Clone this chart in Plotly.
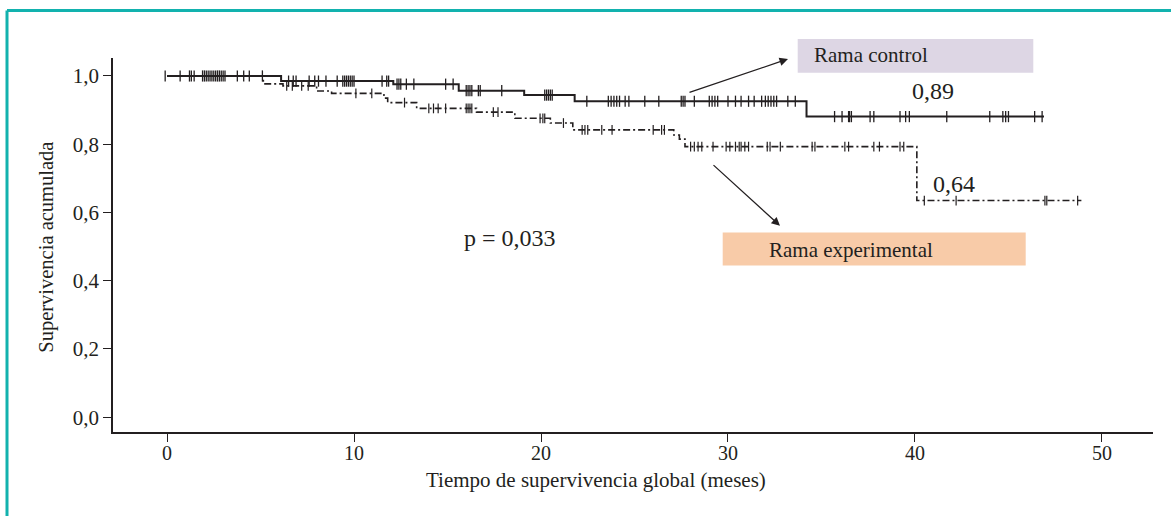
import numpy as np
import plotly.graph_objects as go

# Kaplan-Meier step data (months, cumulative survival)
ctrl_t = [0, 6.1, 12.1, 15.6, 19.1, 21.8, 34.2, 46.9]
ctrl_s = [1.0, 0.985, 0.976, 0.957, 0.944, 0.926, 0.881, 0.881]
ctrl_cens = [-0.1, 0.7, 1.2, 1.3, 1.45, 1.9, 2.0, 2.1, 2.2, 2.3, 2.4, 2.5, 2.6, 2.7, 2.8, 2.9, 3.0, 3.1,
             3.76, 4.1, 4.4, 5.1, 6.5, 6.75, 6.9, 7.6, 7.9, 8.1, 8.5, 9.1, 9.4, 9.5, 9.6, 9.7, 9.8, 9.9, 10.0,
             11.5, 11.75, 11.85, 12.3, 12.4, 12.5, 12.8, 13.2, 14.9, 15.3, 16.0, 16.1, 16.2, 16.3, 16.65, 16.75,
             17.9, 20.2, 20.3, 20.4, 20.5, 20.6, 22.45, 23.6, 23.75, 23.9, 24.05, 24.2, 24.5, 24.7, 25.55, 26.3,
             27.5, 27.6, 27.7, 28.2, 29.0, 29.15, 29.3, 29.45, 30.0, 30.4, 30.7, 31.1, 31.4, 31.8, 32.0, 32.15,
             32.3, 32.45, 32.6, 33.2, 33.6, 35.7, 36.1, 36.45, 36.5, 36.6, 37.6, 37.8, 39.2, 39.5, 39.7, 41.7,
             44.0, 44.7, 44.85, 45.0, 46.4, 46.8]

exp_t = [0, 5.15, 6.2, 8.0, 8.8, 11.6, 11.8, 13.35, 16.55, 18.6, 20.5, 21.7, 27.1, 27.4, 27.7, 40.1, 48.9]
exp_s = [1.0, 0.977, 0.971, 0.956, 0.949, 0.935, 0.922, 0.905, 0.894, 0.876, 0.862, 0.842, 0.827, 0.815,
         0.793, 0.635, 0.635]
exp_cens = [6.4, 6.7, 7.2, 7.55, 10.1, 10.95, 12.7, 14.0, 14.25, 14.5, 14.9, 16.0, 16.1, 16.2, 16.3, 17.45,
            17.7, 19.95, 20.1, 20.2, 21.2, 22.2, 22.35, 22.5, 23.25, 23.8, 26.0, 26.45, 26.6, 28.0, 28.2, 28.4,
            28.6, 29.2, 29.9, 30.1, 30.4, 30.6, 30.7, 30.9, 31.1, 32.1, 32.25, 32.8, 34.5, 34.65, 36.25, 36.45,
            37.8, 38.1, 39.2, 39.4, 40.5, 42.2, 46.95, 47.05, 48.7]

x_ticks = [0, 10, 20, 30, 40, 50]
y_ticks = [0.0, 0.2, 0.4, 0.6, 0.8, 1.0]
y_ticklabels = ["0,0", "0,2", "0,4", "0,6", "0,8", "1,0"]

INK = "#231f20"
FONT = "Liberation Serif, Times New Roman, serif"


def step_value(times, surv, t):
    idx = np.searchsorted(np.array(times), np.array(t), side="right") - 1
    idx = np.clip(idx, 0, len(surv) - 1)
    return np.array(surv)[idx]


fig = go.Figure()
fig.add_trace(go.Scatter(x=exp_t, y=exp_s, mode="lines", line_shape="hv",
                         line=dict(color=INK, width=1.6, dash="7px,3px,2px,3px"),
                         showlegend=False, hoverinfo="skip"))
fig.add_trace(go.Scatter(x=exp_cens, y=step_value(exp_t, exp_s, exp_cens), mode="markers",
                         marker=dict(symbol="line-ns-open", size=7, color=INK, line=dict(color=INK, width=1.2)),
                         showlegend=False))
fig.add_trace(go.Scatter(x=ctrl_t, y=ctrl_s, mode="lines", line_shape="hv",
                         line=dict(color=INK, width=2), showlegend=False, hoverinfo="skip"))
fig.add_trace(go.Scatter(x=ctrl_cens, y=step_value(ctrl_t, ctrl_s, ctrl_cens), mode="markers",
                         marker=dict(symbol="line-ns-open", size=8, color=INK, line=dict(color=INK, width=1.3)),
                         showlegend=False))

axis_common = dict(showgrid=False, zeroline=False, showline=True, linecolor=INK, linewidth=1.5,
                   ticks="outside", ticklen=8, tickwidth=1.3, tickcolor=INK,
                   tickfont=dict(family=FONT, size=21, color=INK))

fig.update_layout(
    width=1171, height=516,
    margin=dict(l=113, r=18, t=58, b=83.5),
    paper_bgcolor="white", plot_bgcolor="white",
    xaxis=dict(range=[-2.89, 52.73], tickvals=x_ticks, showticklabels=False, **axis_common),
    yaxis=dict(range=[-0.0433, 1.0527], tickvals=y_ticks, ticktext=y_ticklabels, **axis_common),
    font=dict(family=FONT, color=INK),
)


def px(xp):
    return (xp - 113) / 1040.0


def py(yp):
    return (432.5 - yp) / 374.5


# frame
teal = "#12b2ae"
fig.add_shape(type="line", xref="paper", yref="paper", x0=px(7), x1=px(1180), y0=py(10.5), y1=py(10.5),
              line=dict(color=teal, width=3))
fig.add_shape(type="line", xref="paper", yref="paper", x0=px(7), x1=px(7), y0=py(10.5), y1=py(530),
              line=dict(color=teal, width=3))

# label boxes
fig.add_shape(type="rect", xref="paper", yref="paper", x0=px(797.7), x1=px(1033.3), y0=py(72.7), y1=py(39),
              fillcolor="#ddd6e4", line=dict(width=0), layer="below")
fig.add_shape(type="rect", xref="paper", yref="paper", x0=px(722.7), x1=px(1025.7), y0=py(265.7), y1=py(232.7),
              fillcolor="#f8cba8", line=dict(width=0), layer="below")

ann = []
# x tick labels (placed closer to the axis than the default)
for t in x_ticks:
    ann.append(dict(x=t, y=py(454), xref="x", yref="paper", text=str(t), showarrow=False,
                    xanchor="center", yanchor="middle", font=dict(family=FONT, size=20, color=INK)))
ann.append(dict(x=px(812), y=py(55), xref="paper", yref="paper", text="Rama control", showarrow=False,
                xanchor="left", yanchor="middle", font=dict(family=FONT, size=21, color=INK)))
ann.append(dict(x=px(766.7), y=py(250.5), xref="paper", yref="paper", text="Rama experimental", showarrow=False,
                xanchor="left", yanchor="middle", font=dict(family=FONT, size=21, color=INK)))
ann.append(dict(x=px(933), y=py(91), xref="paper", yref="paper", text="0,89", showarrow=False,
                xanchor="center", yanchor="middle", font=dict(family=FONT, size=24, color=INK)))
ann.append(dict(x=px(954), y=py(184), xref="paper", yref="paper", text="0,64", showarrow=False,
                xanchor="center", yanchor="middle", font=dict(family=FONT, size=24, color=INK)))
ann.append(dict(x=px(510), y=py(238), xref="paper", yref="paper", text="p = 0,033", showarrow=False,
                xanchor="center", yanchor="middle", font=dict(family=FONT, size=24, color=INK)))
ann.append(dict(x=px(596), y=py(481), xref="paper", yref="paper", text="Tiempo de supervivencia global (meses)",
                showarrow=False, xanchor="center", yanchor="middle", font=dict(family=FONT, size=21, color=INK)))
ann.append(dict(x=px(47), y=py(248), xref="paper", yref="paper", text="Supervivencia acumulada", textangle=-90,
                showarrow=False, xanchor="center", yanchor="middle", font=dict(family=FONT, size=20.5, color=INK)))
# arrows
ann.append(dict(x=px(788), y=py(59), xref="paper", yref="paper", text="", showarrow=True,
                ax=-100, ay=34, arrowhead=2, arrowsize=1.3, arrowwidth=1.3, arrowcolor=INK))
ann.append(dict(x=px(780), y=py(226), xref="paper", yref="paper", text="", showarrow=True,
                ax=-68, ay=-62, arrowhead=2, arrowsize=1.3, arrowwidth=1.3, arrowcolor=INK))
fig.update_layout(annotations=ann)

fig.write_html("out.html")
